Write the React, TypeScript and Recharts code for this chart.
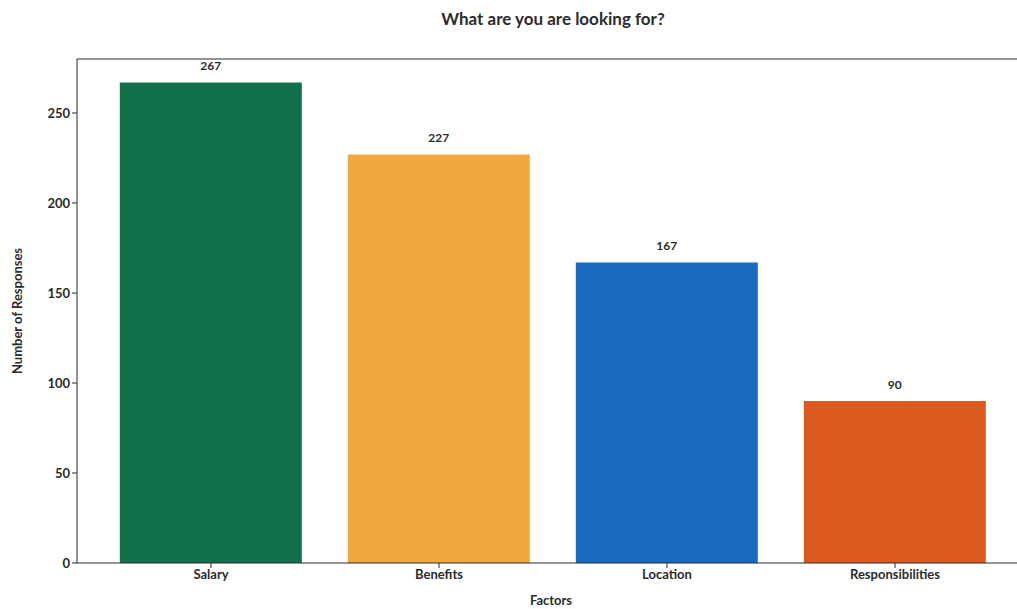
import { BarChart, Bar, XAxis, YAxis, Cell, LabelList, ReferenceLine } from 'recharts'

const factors = ['Salary', 'Benefits', 'Location', 'Responsibilities']
const responses = [267, 227, 167, 90]
const barColors = ['#12704a', '#f0a83e', '#1a6bc0', '#dc5a1d']
const yTicks = [0, 50, 100, 150, 200, 250]
const yMax = 280

const data = factors.map((name, i) => ({ name, value: responses[i] }))

const font = 'Lato, "Open Sans", sans-serif'
const ink = '#2b2b2b'

export default function App() {
  return (
    <div
      style={{
        position: 'absolute',
        left: 0,
        top: 0,
        width: 1017,
        height: 609,
        overflow: 'hidden',
        background: '#fff',
        fontFamily: font,
      }}
    >
      {/* title */}
      <div
        style={{
          position: 'absolute',
          left: 77,
          width: 952,
          top: 8,
          textAlign: 'center',
          fontSize: 17,
          fontWeight: 700,
          color: ink,
        }}
      >
        What are you are looking for?
      </div>

      <BarChart
        width={1040}
        height={609}
        data={data}
        margin={{ top: 59, right: 11, left: 17, bottom: 16 }}
        barCategoryGap="10%"
      >
        <XAxis
          dataKey="name"
          padding={{ left: 20, right: 20 }}
          stroke={ink}
          tickSize={5}
          tick={{ fill: ink, fontSize: 13, fontWeight: 700, fontFamily: font }}
          label={{
            value: 'Factors',
            position: 'insideBottom',
            offset: -12,
            fill: ink,
            fontSize: 13,
            fontWeight: 700,
            fontFamily: font,
            dx: -2,
          }}
        />
        <YAxis
          domain={[0, yMax]}
          ticks={yTicks}
          width={60}
          stroke={ink}
          tickSize={5}
          tick={{ fill: ink, fontSize: 13, fontWeight: 700, fontFamily: font }}
          label={{
            value: 'Number of Responses',
            angle: -90,
            position: 'insideLeft',
            offset: 0,
            dx: 0,
            fill: ink,
            fontSize: 13,
            fontWeight: 700,
            fontFamily: font,
            style: { textAnchor: 'middle' },
          }}
        />
        <ReferenceLine y={yMax} stroke={ink} strokeWidth={1} />
        <Bar dataKey="value" isAnimationActive={false}>
          {data.map((d, i) => (
            <Cell key={d.name} fill={barColors[i]} />
          ))}
          <LabelList
            dataKey="value"
            position="top"
            offset={12}
            fill={ink}
            fontSize={12}
            fontWeight={700}
            fontFamily={font}
          />
        </Bar>
      </BarChart>
    </div>
  )
}
